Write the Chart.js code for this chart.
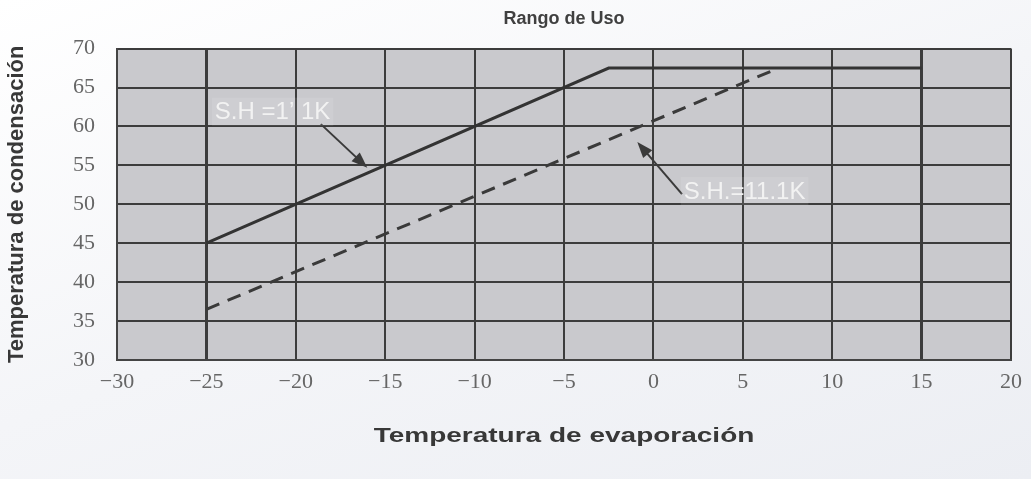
<!DOCTYPE html>
<html lang="es">
<head>
    <meta charset="UTF-8">
    <title>Rango de Uso</title>
    <script src="https://cdn.jsdelivr.net/npm/chart.js"></script>
    <style>
        body { margin: 0; background: linear-gradient(160deg, #ffffff 0%, #f4f5f8 50%, #eceef3 100%); }
        #wrap { width: 1031px; height: 479px; }
    </style>
</head>
<body>
    <div id="wrap"><canvas id="rangeChart" width="1031" height="479"></canvas></div>

    <script>
        // envelope lines (evaporating temp -> condensing temp)
        const solidX = [-25, -2.5, 15];
        const solidY = [45, 67.5, 67.5];
        const dashedX = [-25, 7];
        const dashedY = [36.5, 67.5];

        // axis ranges / ticks
        const xTicks = [-30, -25, -20, -15, -10, -5, 0, 5, 10, 15, 20];
        const yTicks = [30, 35, 40, 45, 50, 55, 60, 65, 70];

        // callout labels
        const labelTexts = ['S.H =1\u2019 1K', 'S.H.=11.1K'];
        const labelX = [-21.3, 5.1];
        const labelY = [61.9, 51.7];
        const arrowFromX = [-18.6, 1.6];
        const arrowFromY = [60.3, 51.3];
        const arrowToX = [-16.0, -0.9];
        const arrowToY = [54.7, 58.0];

        const xTitle = 'Temperatura de evaporación';

        const toPoints = (xs, ys) => xs.map((x, i) => ({ x: x, y: ys[i] }));
        const minus = v => String(v).replace('-', '\u2212');

        const areaBg = {
            id: 'areaBg',
            beforeDraw(chart) {
                const { ctx, chartArea: a } = chart;
                ctx.save();
                ctx.fillStyle = '#c9c9cd';
                ctx.fillRect(a.left, a.top, a.right - a.left, a.bottom - a.top);
                ctx.restore();
            }
        };

        // the x title in the picture is drawn wide, so it is stretched a bit
        const wideXTitle = {
            id: 'wideXTitle',
            afterDraw(chart) {
                const { ctx, chartArea: a } = chart;
                ctx.save();
                ctx.translate((a.left + a.right) / 2, 436);
                ctx.scale(1.4, 1);
                ctx.font = 'bold 20px "Liberation Sans", Arial, sans-serif';
                ctx.fillStyle = '#383838';
                ctx.textAlign = 'center';
                ctx.textBaseline = 'middle';
                ctx.fillText(xTitle, 0, 0);
                ctx.restore();
            }
        };

        const callouts = {
            id: 'callouts',
            afterDatasetsDraw(chart) {
                const { ctx, scales: { x, y } } = chart;
                ctx.save();
                for (let i = 0; i < labelTexts.length; i++) {
                    // arrow
                    const x1 = x.getPixelForValue(arrowFromX[i]), y1 = y.getPixelForValue(arrowFromY[i]);
                    const x2 = x.getPixelForValue(arrowToX[i]), y2 = y.getPixelForValue(arrowToY[i]);
                    const ang = Math.atan2(y2 - y1, x2 - x1);
                    const c = Math.cos(ang), s = Math.sin(ang);
                    ctx.strokeStyle = '#3a3a3a';
                    ctx.fillStyle = '#3a3a3a';
                    ctx.lineWidth = 2;
                    ctx.beginPath();
                    ctx.moveTo(x1, y1);
                    ctx.lineTo(x2 - 10 * c, y2 - 10 * s);
                    ctx.stroke();
                    ctx.beginPath();
                    ctx.moveTo(x2, y2);
                    ctx.lineTo(x2 - 16 * c + 6 * s, y2 - 16 * s - 6 * c);
                    ctx.lineTo(x2 - 16 * c - 6 * s, y2 - 16 * s + 6 * c);
                    ctx.closePath();
                    ctx.fill();

                    // label
                    const lx = x.getPixelForValue(labelX[i]), ly = y.getPixelForValue(labelY[i]);
                    ctx.font = '24px "Liberation Sans", Arial, sans-serif';
                    const w = ctx.measureText(labelTexts[i]).width;
                    ctx.fillStyle = 'rgba(255,255,255,0.1)';
                    ctx.fillRect(lx - w / 2 - 3, ly - 14, w + 6, 28);
                    ctx.fillStyle = '#f2f2f2';
                    ctx.textAlign = 'center';
                    ctx.textBaseline = 'middle';
                    ctx.fillText(labelTexts[i], lx, ly + 1);
                }
                ctx.restore();
            }
        };

        const tickFont = { family: '"Liberation Serif", "DejaVu Serif", serif', size: 22 };

        new Chart(document.getElementById('rangeChart'), {
            type: 'scatter',
            data: {
                datasets: [{
                    data: toPoints(solidX, solidY),
                    showLine: true,
                    borderColor: '#333333',
                    borderWidth: 3,
                    pointRadius: 0
                }, {
                    data: toPoints(dashedX, dashedY),
                    showLine: true,
                    borderColor: '#3a3a3a',
                    borderWidth: 3,
                    borderDash: [14, 9],
                    pointRadius: 0
                }]
            },
            options: {
                responsive: false,
                animation: false,
                layout: { padding: { left: 0, right: 18, top: 0, bottom: 0 } },
                plugins: {
                    legend: { display: false },
                    tooltip: { enabled: false },
                    title: {
                        display: true,
                        text: 'Rango de Uso',
                        fullSize: false,
                        color: '#404040',
                        font: { family: '"Liberation Sans", Arial, sans-serif', size: 18, weight: 'bold' },
                        padding: { top: 8, bottom: 19 }
                    }
                },
                scales: {
                    x: {
                        type: 'linear',
                        min: xTicks[0],
                        max: xTicks[xTicks.length - 1],
                        afterBuildTicks: s => { s.ticks = xTicks.map(v => ({ value: v })); },
                        afterFit: s => { s.height = 119; },
                        ticks: { color: '#666', font: tickFont, padding: 9, callback: minus, maxRotation: 0 },
                        grid: {
                            color: '#3c3c3c',
                            lineWidth: c => (c.tick && (c.tick.value === -25 || c.tick.value === 15)) ? 3 : 2,
                            drawTicks: false
                        },
                        border: { color: '#444', width: 2 },
                        title: { display: false }
                    },
                    y: {
                        min: yTicks[0],
                        max: yTicks[yTicks.length - 1],
                        afterBuildTicks: s => { s.ticks = yTicks.map(v => ({ value: v })); },
                        afterFit: s => { s.width = 117; },
                        ticks: { color: '#666', font: tickFont, padding: 22 },
                        grid: { color: '#3c3c3c', lineWidth: 2, drawTicks: false },
                        border: { color: '#444', width: 2 },
                        title: {
                            display: true,
                            text: 'Temperatura de condensación',
                            color: '#383838',
                            font: { family: '"Liberation Sans", Arial, sans-serif', size: 22, weight: 'bold' },
                            padding: { top: 4, bottom: 0 }
                        }
                    }
                }
            },
            plugins: [areaBg, callouts, wideXTitle]
        });
    </script>
</body>
</html>
